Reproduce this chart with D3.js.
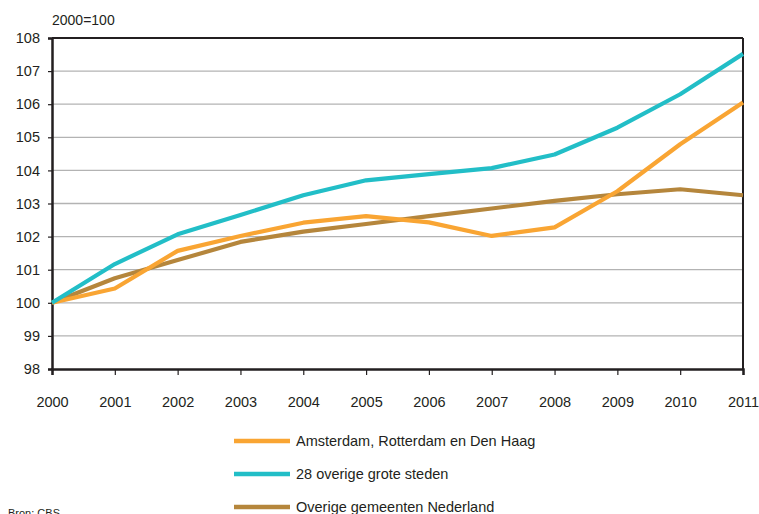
<!DOCTYPE html>
<html><head><meta charset="utf-8">
<script src="https://cdn.jsdelivr.net/npm/d3@7"></script>
<style>html,body{margin:0;padding:0;background:#fff;}svg{display:block;font-family:"Liberation Sans",Arial,sans-serif;}</style>
</head><body><svg id="c" width="759" height="514"></svg>
<script>
const years = [2000,2001,2002,2003,2004,2005,2006,2007,2008,2009,2010,2011];
const yTicks = [98,99,100,101,102,103,104,105,106,107,108];
const seriesNames = ["Amsterdam, Rotterdam en Den Haag","28 overige grote steden","Overige gemeenten Nederland"];
const amsterdam = [100,100.43,101.57,102.02,102.42,102.62,102.43,102.02,102.28,103.37,104.79,106.05];
const grote = [100,101.17,102.07,102.65,103.25,103.70,103.89,104.07,104.48,105.29,106.30,107.52];
const overige = [100,100.74,101.29,101.84,102.15,102.38,102.62,102.85,103.08,103.28,103.43,103.25];
const colors = ["#F9A533","#22BEC7","#B5863C"];

const svg = d3.select("#c");
const L=52, R=743, T=38, B=369;
const x = d3.scaleLinear().domain([2000,2011]).range([L,R]);
const y = d3.scaleLinear().domain([98,108]).range([B,T]);

svg.append("g").selectAll("line").data(yTicks.filter(v=>v>98&&v<108)).join("line")
  .attr("x1",L).attr("x2",R).attr("y1",d=>y(d)).attr("y2",d=>y(d))
  .attr("stroke","#b3b3b3").attr("stroke-width",1.3);

svg.append("line").attr("x1",L).attr("x2",R).attr("y1",T).attr("y2",T).attr("stroke","#231f20").attr("stroke-width",2);
svg.append("line").attr("x1",R).attr("x2",R).attr("y1",T).attr("y2",B).attr("stroke","#231f20").attr("stroke-width",2);

const yAxis = d3.axisLeft(y).tickValues(yTicks).tickSize(4).tickPadding(8).tickFormat(d3.format("d"));
const gy = svg.append("g").attr("transform",`translate(${L},0)`).call(yAxis);
const xAxis = d3.axisBottom(x).tickValues(years).tickSize(6).tickPadding(22).tickFormat(d3.format("d"));
const gx = svg.append("g").attr("transform",`translate(0,${B})`).call(xAxis);
[gy,gx].forEach(g=>{
  g.select(".domain").attr("stroke","#231f20").attr("stroke-width",2.5);
  g.selectAll(".tick line").attr("stroke","#231f20").attr("stroke-width",1.2);
  g.selectAll(".tick text").attr("fill","#231f20").style("font-size","14.5px").style("font-family","'Liberation Sans',Arial,sans-serif");
});
gx.selectAll(".tick text").attr("dy","0.71em");

svg.append("text").attr("x",L).attr("y",25).text("2000=100").attr("fill","#231f20").style("font-size","14px");

const line = d3.line().x((d,i)=>x(years[i])).y(d=>y(d));
const data = [amsterdam, grote, overige];
[2,0,1].forEach(k=>{
  svg.append("path").datum(data[k]).attr("d",line).attr("fill","none")
    .attr("stroke",colors[k]).attr("stroke-width",4.2).attr("stroke-linejoin","round");
});

const legY = [441,474,507];
seriesNames.forEach((n,i)=>{
  svg.append("line").attr("x1",234).attr("x2",290).attr("y1",legY[i]).attr("y2",legY[i])
    .attr("stroke",colors[i]).attr("stroke-width",4.5);
  svg.append("text").attr("x",296).attr("y",legY[i]+5).text(n).attr("fill","#231f20").style("font-size","14.5px");
});

svg.append("text").attr("x",8).attr("y",517).text("Bron: CBS").attr("fill","#231f20").style("font-size","11px");
</script></body></html>
